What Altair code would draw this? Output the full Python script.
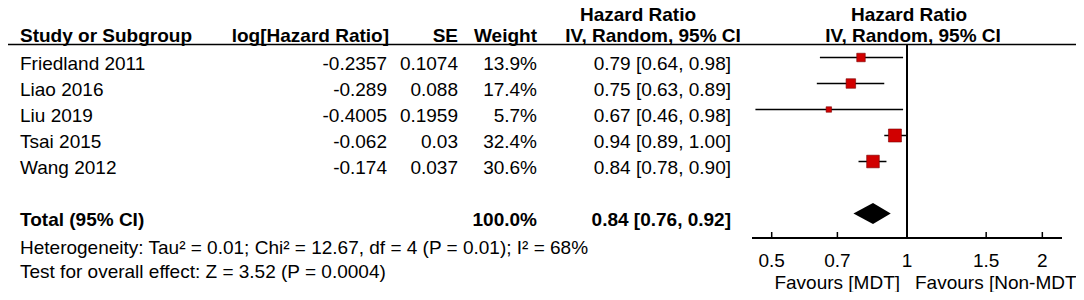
import altair as alt
import pandas as pd

# ---- data ----
studies = ["Friedland 2011", "Liao 2016", "Liu 2019", "Tsai 2015", "Wang 2012"]
log_hr = [-0.2357, -0.289, -0.4005, -0.062, -0.174]
se = [0.1074, 0.088, 0.1959, 0.03, 0.037]
weight = [13.9, 17.4, 5.7, 32.4, 30.6]
hr = [0.79, 0.75, 0.67, 0.94, 0.84]
ci_low = [0.64, 0.63, 0.46, 0.89, 0.78]
ci_high = [0.98, 0.89, 0.98, 1.00, 0.90]

total_label = "Total (95% CI)"
total_weight = 100.0
total_hr = 0.84
total_low = 0.76
total_high = 0.92

axis_ticks = [0.5, 0.7, 1, 1.5, 2]
heterogeneity = "Heterogeneity: Tau\u00b2 = 0.01; Chi\u00b2 = 12.67, df = 4 (P = 0.01); I\u00b2 = 68%"
overall = "Test for overall effect: Z = 3.52 (P = 0.0004)"
favours_left = "Favours [MDT]"
favours_right = "Favours [Non-MDT]"

# ---- layout / style ----
W, H = 1068, 284
FONT = "Liberation Sans"
FS = 19
RED = "#d10000"
xscale = alt.Scale(type="log", domain=[0.452, 2.212], range=[744, 1054])
yscale = alt.Scale(domain=[-0.904, 10.019], range=[0, H])
ROW_DY = 12
DIAMOND_HALF = 0.4

rows = list(range(1, len(studies) + 1))
total_row = len(studies) + 2

df = pd.DataFrame({
    "study": studies,
    "loghr": [str(v) for v in log_hr],
    "se": [str(v) for v in se],
    "w": weight,
    "wtxt": [f"{v:.1f}%" for v in weight],
    "hr": hr,
    "lo": ci_low,
    "hi": ci_high,
    "ci": [f"{a:.2f} [{b:.2f}, {c:.2f}]" for a, b, c in zip(hr, ci_low, ci_high)],
    "row": rows,
})

tot = pd.DataFrame({
    "label": [total_label],
    "wtxt": [f"{total_weight:.1f}%"],
    "ci": [f"{total_hr:.2f} [{total_low:.2f}, {total_high:.2f}]"],
    "row": [total_row],
})

diamond = pd.DataFrame({
    "x": [total_low, total_hr, total_high],
    "y": [total_row, total_row - DIAMOND_HALF, total_row],
    "y2": [total_row, total_row + DIAMOND_HALF, total_row],
})

ticks_df = pd.DataFrame({"t": axis_ticks, "lab": [f"{t:g}" for t in axis_ticks]})
null_df = pd.DataFrame({"v": [1]})


def label(text, x, y, align="left", bold=False, size=FS):
    return alt.Chart(pd.DataFrame({"t": [text]})).mark_text(
        align=align, baseline="alphabetic", font=FONT, fontSize=size,
        fontWeight="bold" if bold else "normal", color="black"
    ).encode(x=alt.value(x), y=alt.value(y), text="t:N")


def col(data, field, x, align, bold=False):
    return alt.Chart(data).mark_text(
        align=align, baseline="alphabetic", font=FONT, fontSize=FS, dy=ROW_DY,
        fontWeight="bold" if bold else "normal", color="black"
    ).encode(x=alt.value(x), y=alt.Y("row:Q", scale=yscale, axis=None), text=f"{field}:N")


layers = []
# header
layers.append(alt.Chart(null_df).mark_rule(color="black", strokeWidth=1.6).encode(
    x=alt.value(0), x2=alt.value(W), y=alt.value(36.5)))
layers += [
    label("Study or Subgroup", 12, 34, bold=True),
    label("log[Hazard Ratio]", 381, 34, align="right", bold=True),
    label("SE", 450, 34, align="right", bold=True),
    label("Weight", 529, 34, align="right", bold=True),
    label("Hazard Ratio", 630, 13, align="center", bold=True),
    label("IV, Random, 95% CI", 645, 34, align="center", bold=True),
    label("Hazard Ratio", 901, 13, align="center", bold=True),
    label("IV, Random, 95% CI", 905, 34, align="center", bold=True),
]
# study rows
layers += [
    col(df, "study", 12, "left"),
    col(df, "loghr", 379, "right"),
    col(df, "se", 450, "right"),
    col(df, "wtxt", 529, "right"),
    col(df, "ci", 723, "right"),
    col(tot, "label", 12, "left", bold=True),
    col(tot, "wtxt", 529, "right", bold=True),
    col(tot, "ci", 723, "right", bold=True),
]
# footer
layers += [
    label(heterogeneity, 12, 246),
    label(overall, 12, 270),
]

# forest plot
layers.append(alt.Chart(null_df).mark_rule(color="black", strokeWidth=2).encode(
    x=alt.X("v:Q", scale=xscale, axis=None), y=alt.value(36), y2=alt.value(230)))
layers.append(alt.Chart(df).mark_rule(color="black", strokeWidth=1.5).encode(
    x=alt.X("lo:Q", scale=xscale, axis=None), x2="hi:Q",
    y=alt.Y("row:Q", scale=yscale, axis=None)))
layers.append(alt.Chart(df).mark_point(shape="square", filled=True, fill=RED, stroke="#7a0000",
                                        strokeWidth=0.6, opacity=1).encode(
    x=alt.X("hr:Q", scale=xscale, axis=None),
    y=alt.Y("row:Q", scale=yscale, axis=None),
    size=alt.Size("w:Q", scale=alt.Scale(domain=[0, max(weight)], range=[0, 169]), legend=None)))
layers.append(alt.Chart(diamond).mark_area(color="black", opacity=1).encode(
    x=alt.X("x:Q", scale=xscale, axis=None),
    y=alt.Y("y:Q", scale=yscale, axis=None), y2="y2:Q"))

# axis
layers.append(alt.Chart(null_df).mark_rule(color="black", strokeWidth=2).encode(
    x=alt.value(744), x2=alt.value(1054), y=alt.value(230)))
layers.append(alt.Chart(ticks_df).mark_rule(color="black", strokeWidth=1.5).encode(
    x=alt.X("t:Q", scale=xscale, axis=None), y=alt.value(224), y2=alt.value(230)))
layers.append(alt.Chart(ticks_df).mark_text(font=FONT, fontSize=FS, baseline="alphabetic",
                                             align="center", color="black").encode(
    x=alt.X("t:Q", scale=xscale, axis=None), y=alt.value(259), text="lab:N"))
layers.append(alt.Chart(pd.DataFrame({"v": [1], "t": [favours_left]})).mark_text(
    font=FONT, fontSize=FS, baseline="alphabetic", align="right", dx=-7, color="black").encode(
    x=alt.X("v:Q", scale=xscale, axis=None), y=alt.value(281), text="t:N"))
layers.append(alt.Chart(pd.DataFrame({"v": [1], "t": [favours_right]})).mark_text(
    font=FONT, fontSize=FS, baseline="alphabetic", align="left", dx=8, color="black").encode(
    x=alt.X("v:Q", scale=xscale, axis=None), y=alt.value(281), text="t:N"))

chart = alt.layer(*layers).properties(
    width=W, height=H, padding=0,
    autosize=alt.AutoSizeParams(type="none"),
    background="white",
).configure_view(stroke=None)

chart.save("out.html", embed_options={"renderer": "svg", "actions": False})
